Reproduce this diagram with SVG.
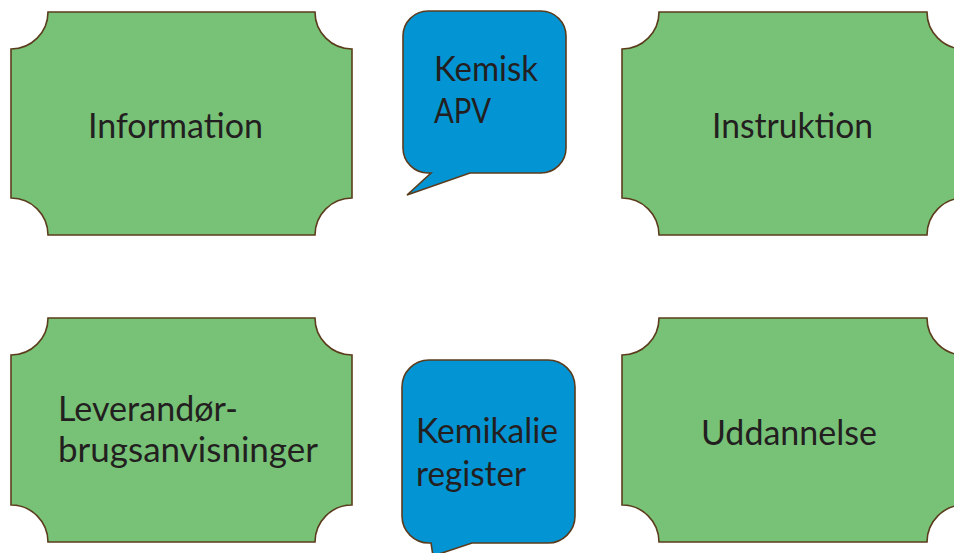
<svg xmlns="http://www.w3.org/2000/svg" width="954" height="553" viewBox="0 0 954 553">
<style>
.box{fill:#77C277;stroke:#5B3C1C;stroke-width:1.6}
.bub{fill:#0394D3;stroke:#5B3C1C;stroke-width:1.6;stroke-linejoin:miter}
.t{font-family:Lato,"Open Sans",sans-serif;font-size:34px;fill:#231F20}
</style>
<rect width="954" height="553" fill="#fff"/>
<g id="information">
<path class="box" d="M48,12 H315 A37,37 0 0 0 352,49 V198 A37,37 0 0 0 315,235 H48 A37,37 0 0 0 11,198 V49 A37,37 0 0 0 48,12 Z"/>
<text class="t" x="88" y="138" textLength="175" lengthAdjust="spacingAndGlyphs">Information</text>
</g>
<g id="instruktion">
<path class="box" d="M659,12 H927 A37,37 0 0 0 964,49 V198 A37,37 0 0 0 927,235 H659 A37,37 0 0 0 622,198 V49 A37,37 0 0 0 659,12 Z"/>
<text class="t" x="712" y="138" textLength="161" lengthAdjust="spacingAndGlyphs">Instruktion</text>
</g>
<g id="leverandor">
<path class="box" d="M48,318 H315 A37,37 0 0 0 352,355 V505 A37,37 0 0 0 315,542 H48 A37,37 0 0 0 11,505 V355 A37,37 0 0 0 48,318 Z"/>
<text class="t" x="58" y="421" textLength="180" lengthAdjust="spacingAndGlyphs">Leverandør-</text>
<text class="t" x="58" y="462" textLength="260" lengthAdjust="spacingAndGlyphs">brugsanvisninger</text>
</g>
<g id="uddannelse">
<path class="box" d="M659,318 H927 A37,37 0 0 0 964,355 V505 A37,37 0 0 0 927,542 H659 A37,37 0 0 0 622,505 V355 A37,37 0 0 0 659,318 Z"/>
<text class="t" x="701" y="445" textLength="176" lengthAdjust="spacingAndGlyphs">Uddannelse</text>
</g>
<g id="kemisk-apv">
<path class="bub" d="M428,11 H541 A25,25 0 0 1 566,36 V148 A25,25 0 0 1 541,173 H470 L407,195 L431,173 H428 A25,25 0 0 1 403,148 V36 A25,25 0 0 1 428,11 Z"/>
<text class="t" x="434" y="81" textLength="104" lengthAdjust="spacingAndGlyphs">Kemisk</text>
<text class="t" x="434" y="123" textLength="57" lengthAdjust="spacingAndGlyphs">APV</text>
</g>
<g id="kemikalie-register">
<path class="bub" d="M429,360 H548 A27,27 0 0 1 575,387 V516 A27,27 0 0 1 548,543 H472 L433,556 L431,543 H429 A27,27 0 0 1 402,516 V387 A27,27 0 0 1 429,360 Z"/>
<text class="t" x="416" y="443" textLength="142" lengthAdjust="spacingAndGlyphs">Kemikalie</text>
<text class="t" x="416" y="486" textLength="110" lengthAdjust="spacingAndGlyphs">register</text>
</g>
<g id="connectors"></g>
</svg>
